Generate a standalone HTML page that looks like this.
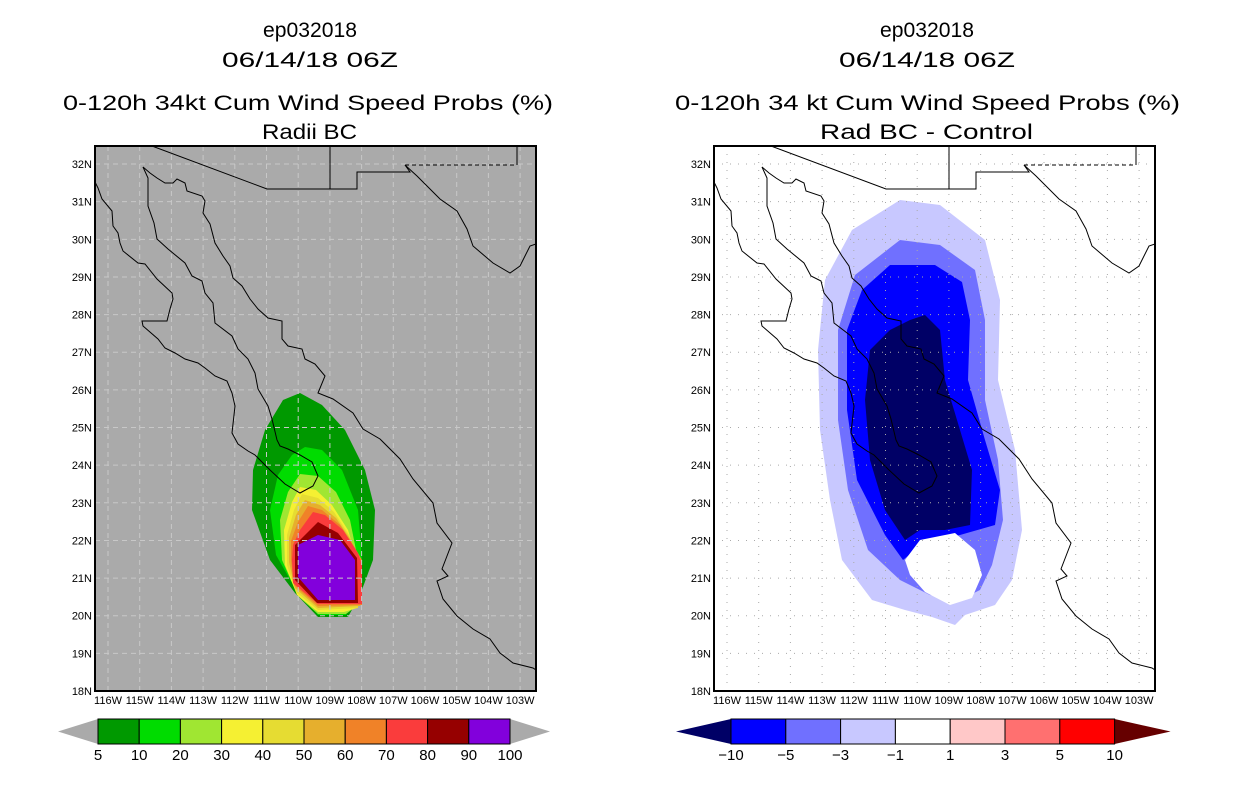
<!DOCTYPE html>
<html><head><meta charset="utf-8"><style>
body{margin:0;background:#fff;width:1236px;height:800px;overflow:hidden}
svg text{font-family:"Liberation Sans",sans-serif}
</style></head><body>
<svg id="s" width="1236" height="800" xmlns="http://www.w3.org/2000/svg">
<defs>
<clipPath id="cl"><rect x="95" y="146" width="441" height="545"/></clipPath>
<clipPath id="cr"><rect x="714" y="146" width="441" height="545"/></clipPath>
</defs>
<g font-size="21" fill="#000">
<text x="263" y="37" textLength="94" lengthAdjust="spacingAndGlyphs">ep032018</text>
<text x="222" y="67" textLength="176" lengthAdjust="spacingAndGlyphs">06/14/18 06Z</text>
<text x="63" y="110" textLength="490" lengthAdjust="spacingAndGlyphs">0-120h 34kt Cum Wind Speed Probs (%)</text>
<text x="262" y="139" textLength="95" lengthAdjust="spacingAndGlyphs">Radii BC</text>
<text x="880" y="37" textLength="94" lengthAdjust="spacingAndGlyphs">ep032018</text>
<text x="839" y="67" textLength="176" lengthAdjust="spacingAndGlyphs">06/14/18 06Z</text>
<text x="675" y="110" textLength="505" lengthAdjust="spacingAndGlyphs">0-120h 34 kt Cum Wind Speed Probs (%)</text>
<text x="820" y="139" textLength="213" lengthAdjust="spacingAndGlyphs">Rad BC - Control</text>
</g>
<rect x="95" y="146" width="441" height="545" fill="#aaaaaa"/>
<rect x="714" y="146" width="441" height="545" fill="#ffffff"/>
<g id="lc" clip-path="url(#cl)"></g>
<g id="rc" clip-path="url(#cr)"></g>
<g id="lgrid" clip-path="url(#cl)"></g>
<g id="rgrid" clip-path="url(#cr)"></g>
<g id="lcoast" clip-path="url(#cl)"></g>
<g id="rcoast" clip-path="url(#cr)"></g>
<rect x="95" y="146" width="441" height="545" fill="none" stroke="#000" stroke-width="2"/>
<rect x="714" y="146" width="441" height="545" fill="none" stroke="#000" stroke-width="2"/>
<g id="axes" font-size="11" fill="#000"></g>
<g id="cbars" font-size="15" fill="#000"></g>
</svg>
<script>
const NS="http://www.w3.org/2000/svg";
const lonTicks=[116,115,114,113,112,111,110,109,108,107,106,105,104,103];
const latTicks=[18,19,20,21,22,23,24,25,26,27,28,29,30,31,32];
const leftLevels=["5","10","20","30","40","50","60","70","80","90","100"];
const leftColors=["#009900","#00dc00","#a0e632","#f5f032","#e6dc32","#e6af2d","#f08228","#fa3c3c","#960000","#8200dc"];
const rightLevels=["-10","-5","-3","-1","1","3","5","10"];
const rightColors=["#0000ff","#7070ff","#c8c8ff","#ffffff","#ffc8c8","#ff7070","#ff0000"];
function el(t,a,p){const e=document.createElementNS(NS,t);for(const k in a)e.setAttribute(k,a[k]);p.appendChild(e);return e;}
const L0=108,dX=31.7,Y0=691,dY=37.64;
function xs(lon,off){return L0+off+(116-lon)*dX;}
function ys(lat){return Y0-(lat-18)*dY;}
[[0,'left','lgrid','#c8c8c8','5,4'],[619,'right','rgrid','#aaaaaa','1,7']].forEach(([off,side,gid,col,da])=>{
 const ax=document.getElementById('axes'),g=document.getElementById(gid);
 lonTicks.forEach(v=>{const x=xs(v,off);
  const t=el('text',{x:x,y:704,'text-anchor':'middle'},ax);t.textContent=v+'W';
  
  
  const l=el('line',{x1:x,x2:x,y1:146,y2:691,stroke:col,'stroke-dasharray':da},g);
  
  });
 latTicks.forEach(v=>{const y=ys(v);
  const t=el('text',{x:92+off,y:y+4,'text-anchor':'end'},ax);t.textContent=v+'N';
  
  
  const l=el('line',{x1:95+off,x2:536+off,y1:y,y2:y,stroke:col,'stroke-dasharray':da},g);
  
  });
});
const leftPolys=[
[[300,393],[322,405],[345,430],[365,470],[375,510],[373,560],[360,595],[348,617],[318,617],[295,593],[270,560],[252,510],[253,470],[265,430],[283,400]],
[[305,447],[322,450],[342,470],[358,510],[362,560],[352,600],[346,615],[318,615],[296,590],[276,555],[270,510],[278,475],[292,455]],
[[300,474],[318,476],[336,492],[350,520],[358,560],[358,605],[346,614],[318,614],[298,596],[282,560],[280,520],[288,492]],
[[300,487],[316,490],[332,505],[348,530],[357,560],[357,608],[344,612],[318,612],[297,595],[285,565],[284,530],[292,502]],
[[302,494],[318,498],[334,512],[349,535],[358,560],[358,608],[318,610],[296,592],[287,565],[287,535],[294,510]],
[[305,500],[320,505],[336,518],[351,540],[360,560],[360,606],[318,608],[295,588],[289,562],[289,538],[296,515]],
[[308,506],[322,510],[340,525],[355,548],[362,560],[362,605],[318,606],[294,585],[291,560],[291,541],[298,522]],
[[313,512],[325,515],[343,530],[358,553],[362,565],[362,604],[318,604],[293,583],[292,560],[293,545],[300,530]],
[[318,522],[338,533],[357,558],[358,603],[317,603],[295,580],[295,545]],
[[318,535],[340,540],[355,560],[355,600],[318,600],[298,577],[298,545]]
];
const lc=document.getElementById('lc');
leftPolys.forEach((p,i)=>{const e=el('polygon',{points:p.map(q=>q.join(',')).join(' '),fill:leftColors[i]},lc);
 
 });
const rightPolys=[
[[900,200],[940,205],[985,240],[1000,300],[998,380],[1015,450],[1022,530],[1012,580],[995,605],[965,615],[955,625],[932,617],[905,610],[872,600],[842,560],[830,500],[820,430],[818,350],[825,280],[852,230]],
[[900,240],[940,245],[975,270],[985,320],[985,400],[998,460],[1003,520],[992,565],[980,590],[960,600],[930,595],[900,580],[868,550],[848,490],[838,420],[838,330],[855,275]],
[[890,265],[935,265],[962,282],[970,320],[968,380],[985,440],[1000,490],[995,525],[960,535],[935,540],[915,550],[903,560],[885,535],[857,480],[847,410],[847,330],[862,290]],
[[910,320],[925,315],[940,330],[945,380],[960,430],[972,470],[970,525],[945,530],[920,530],[905,540],[885,510],[870,460],[865,400],[870,350],[890,330]],
[[905,560],[920,540],[955,533],[975,550],[982,575],[972,598],[950,605],[925,592],[910,575]]
];
const rNames=['diff-contour-minus1','diff-contour-minus3','diff-contour-minus5','diff-contour-minus10','diff-hole-near-zero'];
const rFill=['#c8c8ff','#7070ff','#0000ff','#000066','#ffffff'];
const rc=document.getElementById('rc');
rightPolys.forEach((p,i)=>{const e=el('polygon',{points:p.map(q=>q.join(',')).join(' '),fill:rFill[i]},rc);
 
 });
const coasts=[
[[95,182],[98,188],[102,199],[112,211],[113,226],[118,233],[120,243],[123,251],[138,263],[145,264],[157,279],[172,293],[173,299],[170,309],[167,321],[142,321],[143,326],[158,339],[165,348],[175,353],[185,359],[198,363],[205,368],[215,376],[227,381],[232,393],[235,406],[232,433],[238,444],[248,451],[255,455],[270,470],[285,484],[300,493],[313,486],[318,476],[312,462],[300,455],[288,449],[280,446],[277,440],[272,419],[268,406],[258,389],[255,373],[248,359],[238,349],[232,336],[215,323],[213,303],[205,293],[202,281],[192,276],[185,263],[168,249],[157,239],[154,223],[148,206],[148,178],[143,167]],
[[143,167],[150,173],[157,178],[165,183],[173,183],[177,179],[185,183],[187,191],[202,196],[205,201],[203,213],[210,224],[215,243],[223,256],[230,266],[233,278],[242,286],[250,299],[258,309],[268,318],[282,321],[282,339],[288,346],[302,349],[305,359],[315,364],[325,376],[318,393],[333,399],[353,413],[363,429],[380,439],[400,459],[413,479],[433,503],[437,523],[452,543],[442,569],[448,576],[437,581],[443,599],[457,616],[473,629],[490,639],[500,653],[513,663],[533,668],[536,670]],
[[152,146],[267,189],[357,189],[357,172],[410,172],[405,165]],
[[330,146],[330,189]],
[[405,165],[417,176],[440,199],[457,211],[467,229],[473,246],[493,263],[510,273],[520,266],[530,246],[536,244]],
[[517,146],[517,165]]
];
[['lcoast',0,'left'],['rcoast',619,'right']].forEach(([gid,off,side])=>{const g=document.getElementById(gid);
 coasts.forEach(c=>{const e=el('polyline',{points:c.map(q=>(q[0]+off)+','+q[1]).join(' '),fill:'none',stroke:'#000','stroke-width':1},g);
  
  });
 const d=el('line',{x1:405+off,y1:165,x2:517+off,y2:165,stroke:'#000','stroke-dasharray':'4,3'},g);
 
 
});
const cb=document.getElementById('cbars');
(function(){const x0=98,w=41.2,y0=719,h=25;
 const t1=el('polygon',{points:`58,${y0+h/2} ${x0},${y0} ${x0},${y0+h}`,fill:'#aaaaaa'},cb);
 
 const xe=x0+w*leftColors.length;
 const t2=el('polygon',{points:`${xe+40},${y0+h/2} ${xe},${y0} ${xe},${y0+h}`,fill:'#aaaaaa'},cb);
 
 leftColors.forEach((c,i)=>{const r=el('rect',{x:x0+i*w,y:y0,width:w,height:h,fill:c,stroke:'#000'},cb);
  });
 leftLevels.forEach((v,i)=>{const t=el('text',{x:x0+i*w,y:y0+h+16,'text-anchor':'middle'},cb);t.textContent=v;
  });
})();
(function(){const x0=731,w=54.8,y0=719,h=25;
 const t1=el('polygon',{points:`676,${y0+h/2} ${x0},${y0} ${x0},${y0+h}`,fill:'#000066'},cb);
 
 const xe=x0+w*rightColors.length;
 const t2=el('polygon',{points:`${xe+56},${y0+h/2} ${xe},${y0} ${xe},${y0+h}`,fill:'#660000'},cb);
 
 rightColors.forEach((c,i)=>{const r=el('rect',{x:x0+i*w,y:y0,width:w,height:h,fill:c,stroke:'#000'},cb);
  });
 rightLevels.forEach((v,i)=>{const t=el('text',{x:x0+i*w,y:y0+h+16,'text-anchor':'middle'},cb);t.textContent=v.replace('-','\u2212');
  });
})();
</script>
</body></html>
